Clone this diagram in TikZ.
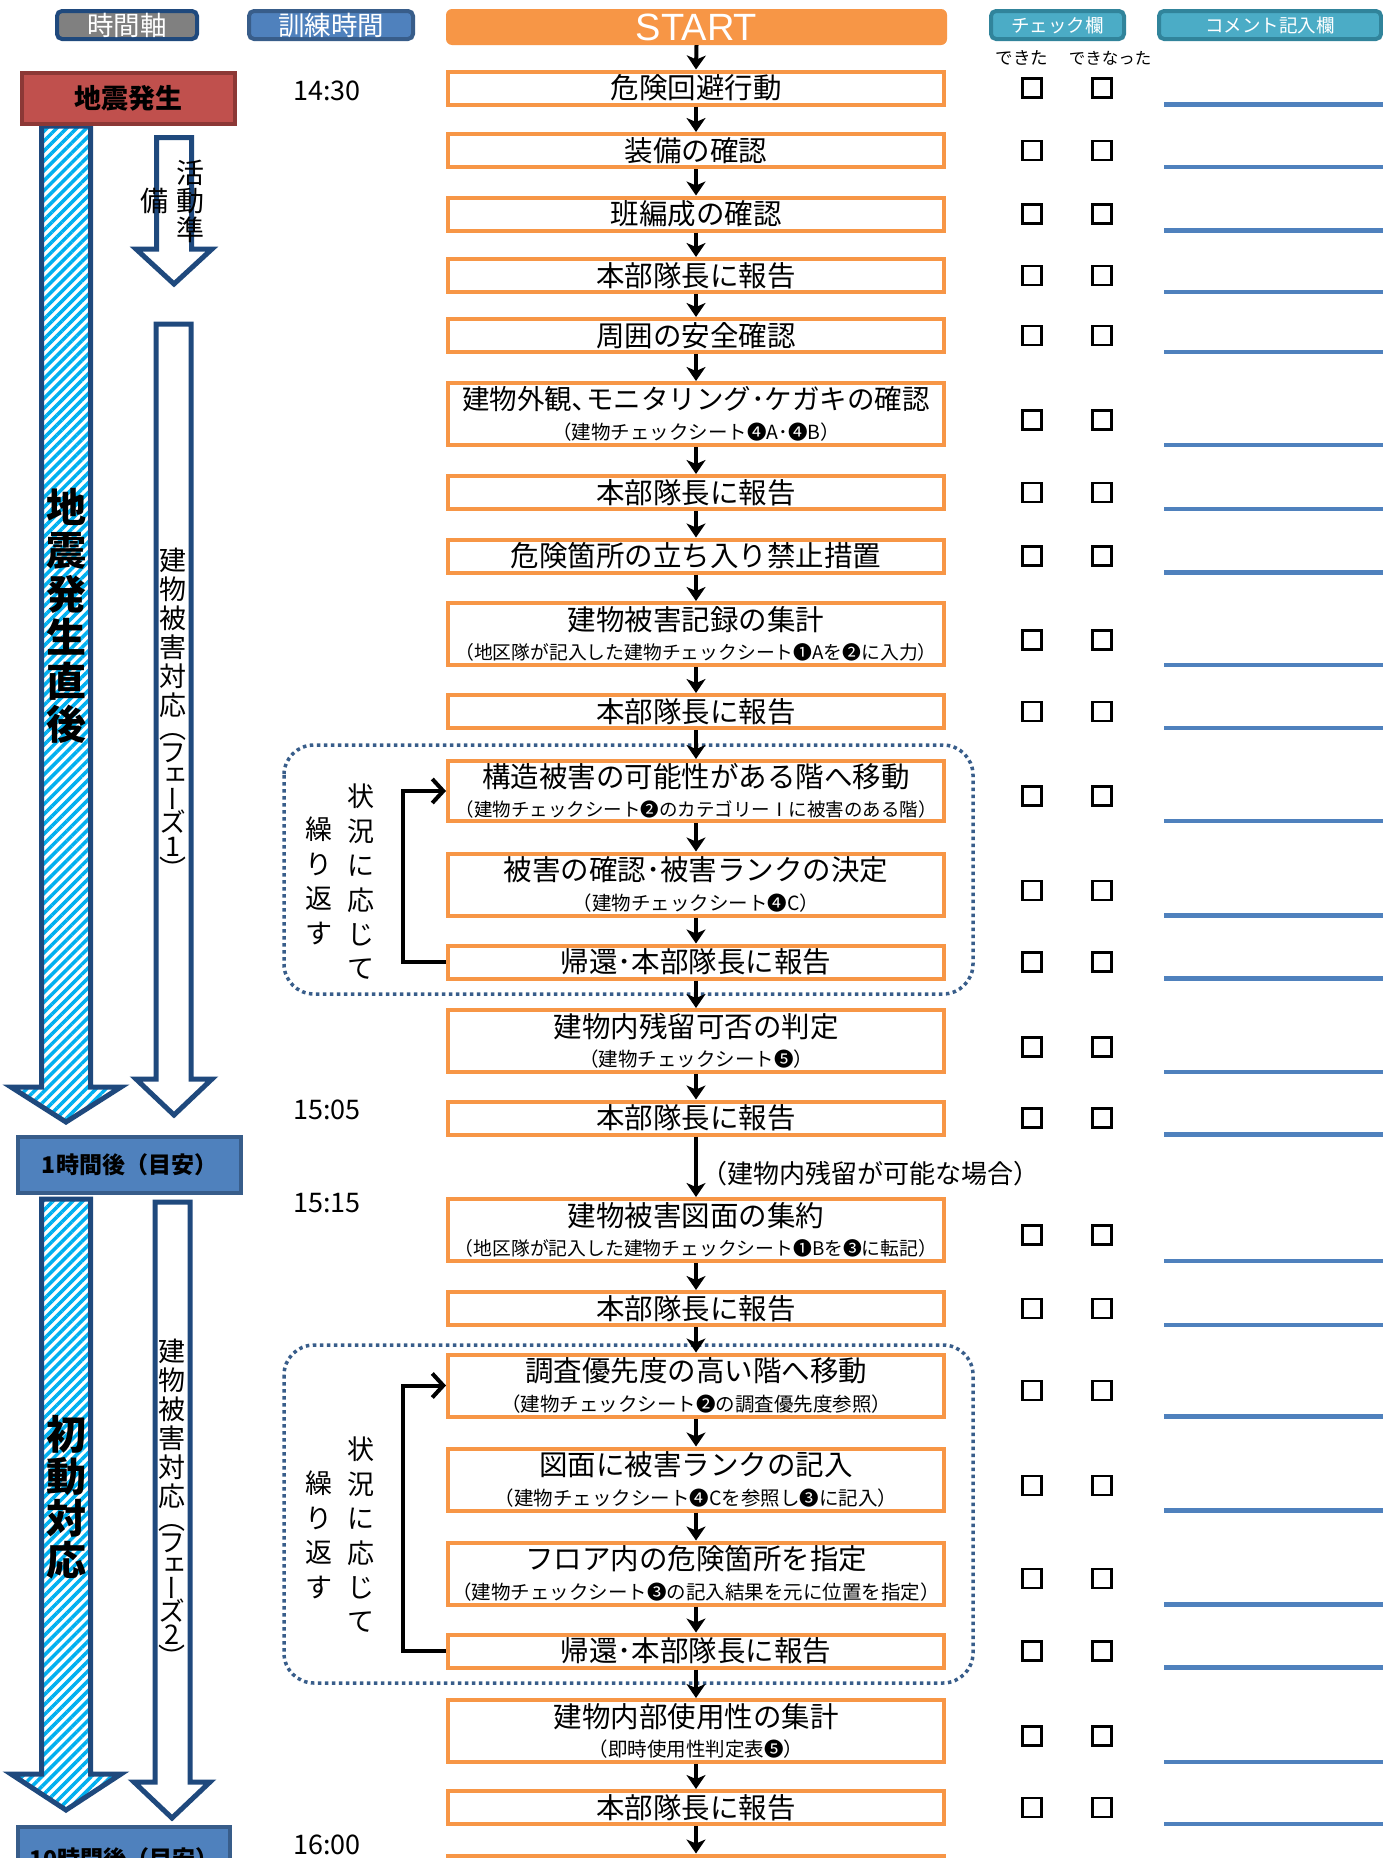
\documentclass[tikz,border=0pt]{standalone}
\usepackage{fontspec}
\setmainfont{Noto Sans CJK JP}
\newfontfamily\tatefont[RawFeature=+vert]{Noto Sans CJK JP}
\newfontfamily\latinfont{Liberation Sans}
\usetikzlibrary{arrows.meta,patterns.meta,calc}

\definecolor{flowor}{HTML}{F79646}
\definecolor{quakered}{HTML}{C0504D}
\definecolor{quakeredd}{HTML}{8C3836}
\definecolor{hdrblue}{HTML}{4F81BD}
\definecolor{hdrblued}{HTML}{385D8A}
\definecolor{navy}{HTML}{1F497D}
\definecolor{hdrteal}{HTML}{4BACC6}
\definecolor{hdrteald}{HTML}{31849B}
\definecolor{hdrgrey}{HTML}{808080}
\definecolor{stripe}{HTML}{00B0F0}

\newcommand\stepnote[1]{{\fontsize{19.5}{29.5}\selectfont #1}}
\newcommand\stepnotelong[1]{{\fontsize{18.8}{29.5}\selectfont #1}}

\tikzset{
    stepbox/.style={draw=flowor, line width=4pt, fill=white, minimum width=496pt,
        minimum height=33pt, inner sep=0pt, align=center, font=\fontsize{28.5}{29.5}\selectfont},
    stepboxtwo/.style={stepbox, minimum height=62pt},
    flow/.style={line width=4pt, -{Stealth[length=14pt,width=19pt,inset=4pt]}},
    loopback/.style={line width=4pt, -{Straight Barb[length=11pt,width=24pt]}},
    loopframe/.style={draw=hdrblued, line width=3.5pt, dash pattern=on 3.5pt off 3.5pt, rounded corners=30pt},
    hatcharrow/.style={draw=navy, line width=5pt, line join=miter,
        pattern={Lines[angle=45,distance=7pt,line width=3.5pt]}, pattern color=stripe},
    hollowarrow/.style={draw=navy, line width=5pt, line join=miter, fill=white},
    tickbox/.style={draw, line width=2.8pt, minimum size=19pt, inner sep=0pt},
    cline/.style={draw=hdrblue, line width=4.5pt},
    hdr/.style={line width=4pt, rounded corners=5pt, text=white, inner sep=0pt, font=\fontsize{26.5}{26.5}\selectfont},
    hdrsmall/.style={hdr, fill=hdrteal, draw=hdrteald, minimum height=28pt, font=\fontsize{18.5}{18.5}\selectfont},
    milestone/.style={fill=hdrblue, draw=hdrblued, line width=4pt, inner sep=0pt, font=\bfseries\fontsize{23}{23}\selectfont},
    tate/.style={align=center, inner sep=0pt, font=\tatefont\fontsize{27}{29}\selectfont},
    clock/.style={font=\fontsize{27}{27}\selectfont, inner sep=0pt},
}

\begin{document}
\begin{tikzpicture}[x=1pt,y=-1pt]
    \useasboundingbox (0,0) rectangle (1382,1858);
    \fill[white] (0,0) rectangle (1382,1858);

    % Column headers
    \node[hdr, fill=hdrgrey, draw=navy, minimum width=140pt, minimum height=28pt] (hAxis) at (127,25) {時間軸};
    \node[hdr, fill=hdrblue, draw=hdrblued, minimum width=164pt, minimum height=28pt] (hTime) at (331,25) {訓練時間};
    \node[fill=flowor, rounded corners=6pt, minimum width=501pt, minimum height=36pt, inner sep=0pt,
        text=white, font=\latinfont\fontsize{38}{38}\selectfont] (go) at (696.5,27) {START};
    \node[hdrsmall, minimum width=133pt] (hCheck) at (1057.5,25) {チェック欄};
    \node[hdrsmall, minimum width=222pt] (hNote) at (1270,25) {コメント記入欄};
    \node[font=\fontsize{17.5}{17.5}\selectfont] (okA) at (1022,58) {できた};
    \node[font=\fontsize{16.5}{16.5}\selectfont] (okB) at (1110,58) {できなった};

    % Time axis arrows
    \draw[hatcharrow] (41.5,126) -- (90.5,126) -- (90.5,1087) -- (121,1087) -- (66,1122)
        -- (11,1087) -- (41.5,1087) -- cycle;
    \draw[hatcharrow] (41.5,1199) -- (90.5,1199) -- (90.5,1774) -- (121,1774) -- (66,1810)
        -- (11,1774) -- (41.5,1774) -- cycle;
    \draw[hollowarrow] (156.5,137.5) -- (191.5,137.5) -- (191.5,249) -- (212,249) -- (174,284)
        -- (136,249) -- (156.5,249) -- cycle;
    \draw[hollowarrow] (156,324) -- (191,324) -- (191,1079) -- (212,1079) -- (174,1115)
        -- (136,1079) -- (156,1079) -- cycle;
    \draw[hollowarrow] (155,1202) -- (190,1202) -- (190,1782) -- (210,1782) -- (172,1818)
        -- (134,1782) -- (155,1782) -- cycle;

    % Time axis labels
    \node[fill=quakered, draw=quakeredd, line width=4pt, minimum width=213pt, minimum height=51pt,
        inner sep=0pt, font=\bfseries\fontsize{27}{27}\selectfont] (quake) at (128.5,98.5) {地震発生};
    \node[milestone, minimum width=223pt, minimum height=56pt] (hour1) at (129.5,1165) {1時間後（目安）};
    \node[milestone, minimum width=212pt, minimum height=64pt] (hour10) at (124,1859) {10時間後（目安）};
    \node[align=center, inner sep=0pt, font=\bfseries\fontsize{40}{43.4}\selectfont] (just) at (66,616)
        {地\\震\\発\\生\\直\\後};
    \node[align=center, inner sep=0pt, font=\bfseries\fontsize{40}{42}\selectfont] (first) at (66,1497)
        {初\\動\\対\\応};
    \node[tate, font=\fontsize{28}{28.5}\selectfont] (prepA) at (190,201) {活\\動\\準};
    \node[tate, font=\fontsize{28}{28.5}\selectfont] (prepB) at (154,201) {備};
    \node[tate] (phase1) at (173,714)
        {建\\物\\被\\害\\対\\応\\[-5.5pt]（\\[-5.5pt]フ\\[-5.5pt]ェ\\[-5.5pt]ー\\[-5.5pt]ズ\\[-5.5pt]1\\[-5.5pt]）};
    \node[tate] (phase2) at (172,1503)
        {建\\物\\被\\害\\対\\応\\[-6pt]（\\[-6pt]フ\\[-6pt]ェ\\[-6pt]ー\\[-6pt]ズ\\[-6pt]2\\[-6pt]）};

    % Training times
    \node[clock] (t1) at (327,91) {14:30};
    \node[clock] (t2) at (327,1110) {15:05};
    \node[clock] (t3) at (327,1203) {15:15};
    \node[clock] (t4) at (327,1845) {16:00};

    % Repeat frames
    \draw[loopframe] (284,745) rectangle (973,994);
    \draw[loopframe] (284,1345) rectangle (973,1683);
    \node[tate, font=\fontsize{27}{34.4}\selectfont] (sitA) at (361,882) {状\\況\\に\\応\\じ\\て};
    \node[tate, font=\fontsize{27}{34.6}\selectfont] (repA) at (319,881) {繰\\り\\返\\す};
    \node[tate, font=\fontsize{27}{34.4}\selectfont] (sitB) at (361,1535) {状\\況\\に\\応\\じ\\て};
    \node[tate, font=\fontsize{27}{34.6}\selectfont] (repB) at (319,1535) {繰\\り\\返\\す};

    % Steps
    \node[stepbox] (s1) at (696,88) {危険回避行動};
    \node[stepbox] (s2) at (696,150.5) {装備の確認};
    \node[stepbox] (s3) at (696,214) {班編成の確認};
    \node[stepbox] (s4) at (696,275.5) {本部隊長に報告};
    \node[stepbox] (s5) at (696,335.5) {周囲の安全確認};
    \node[stepboxtwo] (s6) at (696,414) {{\fontsize{27.5}{29.5}\selectfont 建物外観､モニタリング･ケガキの確認}\\\stepnote{（建物チェックシート❹A･❹B）}};
    \node[stepbox] (s7) at (696,492.5) {本部隊長に報告};
    \node[stepbox] (s8) at (696,556) {危険箇所の立ち入り禁止措置};
    \node[stepboxtwo] (s9) at (696,634) {建物被害記録の集計\\\stepnotelong{（地区隊が記入した建物チェックシート❶Aを❷に入力）}};
    \node[stepbox] (s10) at (696,711.5) {本部隊長に報告};
    \node[stepboxtwo, minimum height=60pt] (s11) at (696,791) {構造被害の可能性がある階へ移動\\{\fontsize{18.5}{29.5}\selectfont （建物チェックシート❷のカテゴリーⅠに被害のある階）}};
    \node[stepboxtwo] (s12) at (696,884.5) {被害の確認･被害ランクの決定\\\stepnote{（建物チェックシート❹C）}};
    \node[stepbox] (s13) at (696,962) {帰還･本部隊長に報告};
    \node[stepboxtwo] (s14) at (696,1041) {建物内残留可否の判定\\\stepnote{（建物チェックシート❺）}};
    \node[stepbox] (s15) at (696,1118) {本部隊長に報告};
    \node[stepboxtwo] (s16) at (696,1230) {建物被害図面の集約\\\stepnotelong{（地区隊が記入した建物チェックシート❶Bを❸に転記）}};
    \node[stepbox] (s17) at (696,1308.5) {本部隊長に報告};
    \node[stepboxtwo] (s18) at (696,1385.5) {調査優先度の高い階へ移動\\\stepnote{（建物チェックシート❷の調査優先度参照）}};
    \node[stepboxtwo] (s19) at (696,1479.5) {図面に被害ランクの記入\\\stepnote{（建物チェックシート❹Cを参照し❸に記入）}};
    \node[stepboxtwo] (s20) at (696,1573.5) {フロア内の危険箇所を指定\\\stepnote{（建物チェックシート❸の記入結果を元に位置を指定）}};
    \node[stepbox] (s21) at (696,1651) {帰還･本部隊長に報告};
    \node[stepboxtwo] (s22) at (696,1731) {建物内部使用性の集計\\\stepnote{（即時使用性判定表❺）}};
    \node[stepbox] (s23) at (696,1807.5) {本部隊長に報告};
    \node[stepbox] (s24) at (696,1872) {};

    % Flow arrows
    \foreach \a/\b in {go/s1,s1/s2,s2/s3,s3/s4,s4/s5,s5/s6,s6/s7,s7/s8,s8/s9,s9/s10,s10/s11,
        s11/s12,s12/s13,s13/s14,s14/s15,s16/s17,s17/s18,s18/s19,s19/s20,s20/s21,s21/s22,s22/s23,s23/s24}
        \draw[flow] (\a.south) -- (\b.north);
    \draw[flow] (s15.south) -- (s16.north)
        node[midway, anchor=west, xshift=3pt, yshift=-7pt, inner sep=0pt, font=\fontsize{26}{26}\selectfont] (ifstay)
        {（建物内残留が可能な場合）};

    % Repeat loops
    \coordinate (bend) at (403,0);
    \draw[loopback] (s13.west) -- (s13.west -| bend) |- (s11.west);
    \draw[loopback] (s21.west) -- (s21.west -| bend) |- (s18.west);

    % Check boxes and comment lines
    \coordinate (colA) at (1032,0);
    \coordinate (colB) at (1102,0);
    \coordinate (colL) at (1164,0);
    \coordinate (colR) at (1392,0);
    \foreach \i/\dy in {1/0,2/0,3/0,4/0,5/0,6/6,7/0,8/0,9/6,10/0,11/5,12/6,13/0,14/6,15/0,
        16/5,17/0,18/5,19/6,20/5,21/0,22/5,23/0} {
        \node[tickbox] (ca\i) at ($(s\i.center -| colA) + (0,\dy)$) {};
        \node[tickbox] (cb\i) at ($(s\i.center -| colB) + (0,\dy)$) {};
        \draw[cline] ($(s\i.south -| colL) + (0,-2)$) -- ($(s\i.south -| colR) + (0,-2)$);
    }
\end{tikzpicture}
\end{document}
